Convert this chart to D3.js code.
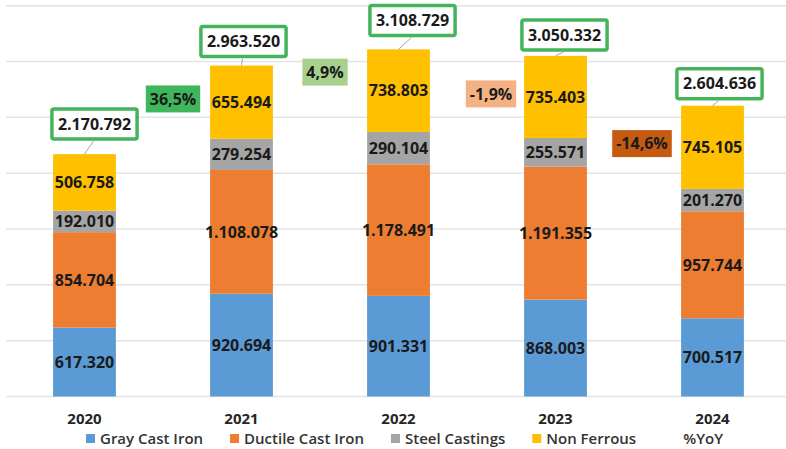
<!DOCTYPE html>
<html>
<head>
<meta charset="utf-8">
<script src="https://cdn.jsdelivr.net/npm/d3@7"></script>
<style>
  body { margin: 0; background: #fff; }
  text { font-family: "Open Sans", "Liberation Sans", sans-serif; }
</style>
</head>
<body>
<script>
// data
var years = ["2020", "2021", "2022", "2023", "2024"];
var series = ["Gray Cast Iron", "Ductile Cast Iron", "Steel Castings", "Non Ferrous"];
var grayCastIron = [617320, 920694, 901331, 868003, 700517];
var ductileCastIron = [854704, 1108078, 1178491, 1191355, 957744];
var steelCastings = [192010, 279254, 290104, 255571, 201270];
var nonFerrous = [506758, 655494, 738803, 735403, 745105];
var totals = [2170792, 2963520, 3108729, 3050332, 2604636];
var yoyLabels = ["36,5%", "4,9%", "-1,9%", "-14,6%"];
var yoyValues = [36.5, 4.9, -1.9, -14.6];
var gridTicks = [500000, 1000000, 1500000, 2000000, 2500000, 3000000, 3500000];

var colors = ["#5b9bd5", "#ed7d31", "#a5a5a5", "#ffc000"];

// hand placed label nudges (like dragged excel labels)
var totalNudge = [[10, -30], [2, -24], [14, -29], [9, -21], [7, -22]];
var yoyPos = [[10, 2665000], [5, 2905000], [14, 2710000], [8, 2265000]];

var width = 786, height = 449;

var svg = d3.select("body").append("svg")
    .attr("width", width)
    .attr("height", height);

var x = d3.scaleBand()
    .domain(years)
    .range([6, 791])
    .paddingInner(0.6)
    .paddingOuter(0.3);

var y = d3.scaleLinear()
    .domain([0, 3500000])
    .range([396.5, 5.7]);

// gridlines
svg.append("g").selectAll("line")
    .data([0].concat(gridTicks))
    .enter().append("line")
    .attr("x1", 6)
    .attr("x2", width)
    .attr("y1", function(d) { return y(d); })
    .attr("y2", function(d) { return y(d); })
    .attr("stroke", "#e3e3e3")
    .attr("stroke-width", 1.5);

var table = years.map(function(yr, i) {
    return {year: yr, "Gray Cast Iron": grayCastIron[i], "Ductile Cast Iron": ductileCastIron[i],
        "Steel Castings": steelCastings[i], "Non Ferrous": nonFerrous[i]};
});

var stack = d3.stack().keys(series)(table);

var layers = svg.append("g").selectAll("g")
    .data(stack)
    .enter().append("g")
    .attr("fill", function(d, i) { return colors[i]; });

layers.selectAll("rect")
    .data(function(d) { return d; })
    .enter().append("rect")
    .attr("x", function(d) { return x(d.data.year); })
    .attr("y", function(d) { return y(d[1]); })
    .attr("width", x.bandwidth())
    .attr("height", function(d) { return y(d[0]) - y(d[1]); });

function fmt(v) {
    return d3.format(",")(v).replace(/,/g, ".");
}

// segment labels
layers.selectAll("text")
    .data(function(d) { return d; })
    .enter().append("text")
    .attr("x", function(d) { return x(d.data.year) + x.bandwidth() / 2; })
    .attr("y", function(d) { return (y(d[0]) + y(d[1])) / 2; })
    .attr("dy", "0.36em")
    .attr("text-anchor", "middle")
    .attr("font-size", 16)
    .attr("font-weight", 700)
    .attr("fill", "#1a1a1a")
    .text(function(d) { return fmt(d[1] - d[0]); });

// total labels with green boxes
years.forEach(function(yr, i) {
    var bx = x(yr) + x.bandwidth() / 2;
    var top = y(totals[i]);
    var cx = bx + totalNudge[i][0];
    var cy = top + totalNudge[i][1];
    var g = svg.append("g");
    var rect = g.append("rect");
    var t = g.append("text")
        .attr("x", cx)
        .attr("y", cy)
        .attr("dy", "0.36em")
        .attr("text-anchor", "middle")
        .attr("font-size", 16)
        .attr("font-weight", 700)
        .attr("fill", "#1a1a1a")
        .text(fmt(totals[i]));
    var w = t.node().getComputedTextLength() + 12;
    var h = 30;
    rect.attr("x", cx - w / 2)
        .attr("y", cy - h / 2)
        .attr("width", w)
        .attr("height", h)
        .attr("rx", 2)
        .attr("fill", "#fff")
        .attr("stroke", "#45b35c")
        .attr("stroke-width", 3.5);
    svg.append("line")
        .attr("x1", cx - 1)
        .attr("y1", cy + h / 2 + 2)
        .attr("x2", bx)
        .attr("y2", top)
        .attr("stroke", "#a6a6a6")
        .attr("stroke-width", 1);
});

// %YoY labels
var yoyColor = d3.scaleThreshold()
    .domain([-10, 0, 10])
    .range(["#c55a11", "#f4b183", "#a9d18e", "#3fb65c"]);

yoyLabels.forEach(function(lab, i) {
    var mid = (x(years[i]) + x(years[i + 1])) / 2 + x.bandwidth() / 2;
    var cx = mid + yoyPos[i][0];
    var cy = y(yoyPos[i][1]);
    var rect = svg.append("rect");
    var t = svg.append("text")
        .attr("x", cx)
        .attr("y", cy)
        .attr("dy", "0.36em")
        .attr("text-anchor", "middle")
        .attr("font-size", 16)
        .attr("font-weight", 700)
        .attr("fill", "#1a1a1a")
        .text(lab);
    var w = t.node().getComputedTextLength() + 8;
    rect.attr("x", cx - w / 2)
        .attr("y", cy - 13.5)
        .attr("width", w)
        .attr("height", 27)
        .attr("fill", yoyColor(yoyValues[i]));
});

// year labels
svg.append("g").selectAll("text")
    .data(years)
    .enter().append("text")
    .attr("x", function(d) { return x(d) + x.bandwidth() / 2; })
    .attr("y", 424)
    .attr("text-anchor", "middle")
    .attr("font-size", 15)
    .attr("font-weight", 700)
    .attr("fill", "#262626")
    .text(function(d) { return d; });

// legend
var legendItems = series.concat(["%YoY"]);
var lx = 86;
legendItems.forEach(function(name, i) {
    if (i < series.length) {
        svg.append("rect")
            .attr("x", lx)
            .attr("y", 434)
            .attr("width", 9)
            .attr("height", 9)
            .attr("fill", colors[i]);
    }
    var t = svg.append("text")
        .attr("x", i < series.length ? lx + 14 : lx + 20)
        .attr("y", 444)
        .attr("font-size", 15)
        .attr("font-weight", 600)
        .attr("fill", "#333")
        .text(name);
    lx = lx + 14 + t.node().getComputedTextLength() + 27;
});
</script>
</body>
</html>
